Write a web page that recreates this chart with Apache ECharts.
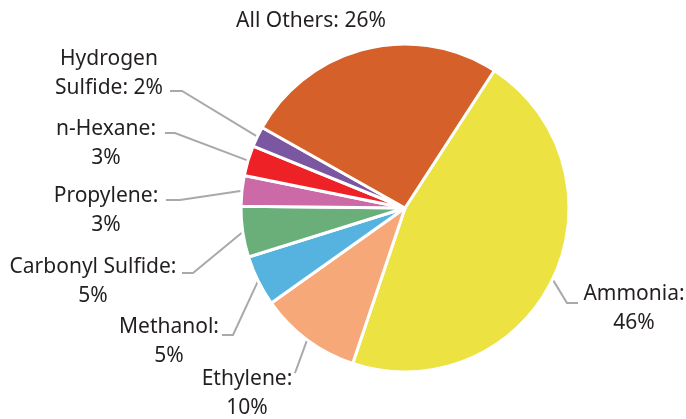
<!DOCTYPE html>
<html>
<head>
<meta charset="utf-8">
<script src="https://cdn.jsdelivr.net/npm/echarts@6/dist/echarts.min.js"></script>
<style>
  html, body { margin: 0; padding: 0; background: #fff; }
  #chart { width: 686px; height: 419px; }
</style>
</head>
<body>
<div id="chart"></div>
<script>
// slice names (label text) and shares in percent, clockwise from the top-right
const names = ['Ammonia:', 'Ethylene:', 'Methanol:', 'Carbonyl Sulfide:', 'Propylene:', 'n-Hexane:', 'Hydrogen\nSulfide:', 'All Others:'];
const shares = [46, 10, 5, 5, 3, 3, 2, 26];
const colors = ['#ece342', '#f6a878', '#56b3e0', '#6aae7a', '#cc6aa8', '#ee2127', '#7a57a0', '#d5602a'];

// label layout: [centerX, topY, lineEndX, lineEndY, elbowX]
const labelSpots = [
  [634, 280, 578, 303, 567],
  [247, 365, 295, 373, 295],
  [169, 313, 222, 335, 233],
  [93, 253, 182, 273, 193],
  [106, 182, 166, 200, 180],
  [106, 115, 165, 133, 175],
  [109, 45, 170, 91, 182],
  [311, 7, null, null, null]
];

const chart = echarts.init(document.getElementById('chart'));

const pieData = names.map((n, i) => ({
  name: n,
  value: shares[i],
  itemStyle: { color: colors[i] },
  labelLine: { show: i !== 7 }
}));

chart.setOption({
  animation: false,
  series: [
    {
      type: 'pie',
      center: [405, 208],
      radius: 164,
      startAngle: 57,
      clockwise: true,
      avoidLabelOverlap: false,
      itemStyle: { borderColor: '#fff', borderWidth: 3 },
      label: {
        show: true,
        // one-line labels for the top two, two lines for the rest
        formatter: p => (p.dataIndex >= 6 ? p.name + ' ' : p.name + '\n') + p.value + '%',
        fontFamily: 'Noto Sans',
        fontSize: 21,
        lineHeight: 29,
        color: '#231f20',
        align: 'center'
      },
      labelLine: {
        show: true,
        lineStyle: { color: '#a7a9ac', width: 2 }
      },
      labelLayout: params => {
        const s = labelSpots[params.dataIndex];
        const out = { x: s[0], y: s[1], align: 'center', verticalAlign: 'top' };
        if (s[2] !== null && params.labelLinePoints) {
          const p0 = params.labelLinePoints[0];
          out.labelLinePoints = [[p0[0], p0[1]], [s[4], s[3]], [s[2], s[3]]];
        }
        return out;
      },
      data: pieData
    }
  ]
});
</script>
</body>
</html>
